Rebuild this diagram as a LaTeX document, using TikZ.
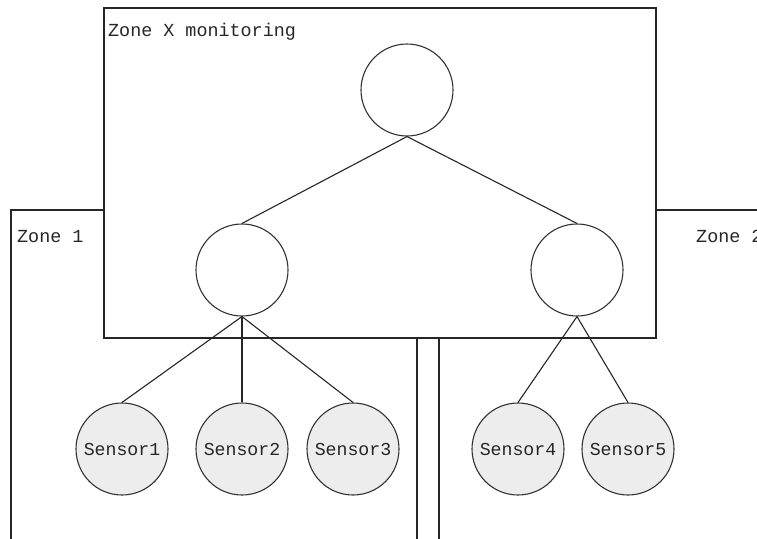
\documentclass[tikz,border=0pt]{standalone}
\usepackage{fontspec}
\setmonofont{Liberation Mono}
\begin{document}
\begin{tikzpicture}[x=1pt,y=-1pt,
  zone/.style={draw=black!85, line width=1.3pt, fill=white},
  hub/.style={circle, draw=black!80, line width=1.1pt, fill=white,
    minimum size=92pt, inner sep=0pt},
  sensor/.style={hub, fill=black!7, text=black!85,
    font=\ttfamily\fontsize{18.2}{20}\selectfont},
  link/.style={draw=black!85, line width=1.1pt},
  zlabel/.style={anchor=west, inner sep=0pt, text=black!85,
    font=\ttfamily\fontsize{18.4}{20}\selectfont}]
% page frame and clipping to the page
\clip (0,0) rectangle (757,538);
\fill[white] (0,0) rectangle (757,538);

% zones
\draw[zone] (11,210) rectangle (417,560);
\draw[zone] (439,210) rectangle (800,560);
\draw[zone] (104,8) rectangle (656,338);

\node[zlabel] (lblz1) at (17,237) {Zone 1};
\node[zlabel] (lblz2) at (696,236) {Zone 2};
\node[zlabel] (lblzx) at (108,32) {Zone X monitoring};

% aggregation tree
\node[hub] (root) at (407,90) {};
\node[hub] (left) at (242,270) {};
\node[hub] (right) at (577,270) {};

\node[sensor] (s1) at (122,449) {Sensor1};
\node[sensor] (s2) at (242,449) {Sensor2};
\node[sensor] (s3) at (353,449) {Sensor3};
\node[sensor] (s4) at (518,449) {Sensor4};
\node[sensor] (s5) at (628,449) {Sensor5};

\draw[link] (root.south) -- (left.north);
\draw[link] (root.south) -- (right.north);
\draw[link] (left.south) -- (s1.north);
\draw[link] (left.south) -- (s2.north);
\draw[link] (left.south) -- (s3.north);
\draw[link] (right.south) -- (s4.north);
\draw[link] (right.south) -- (s5.north);
\end{tikzpicture}
\end{document}
